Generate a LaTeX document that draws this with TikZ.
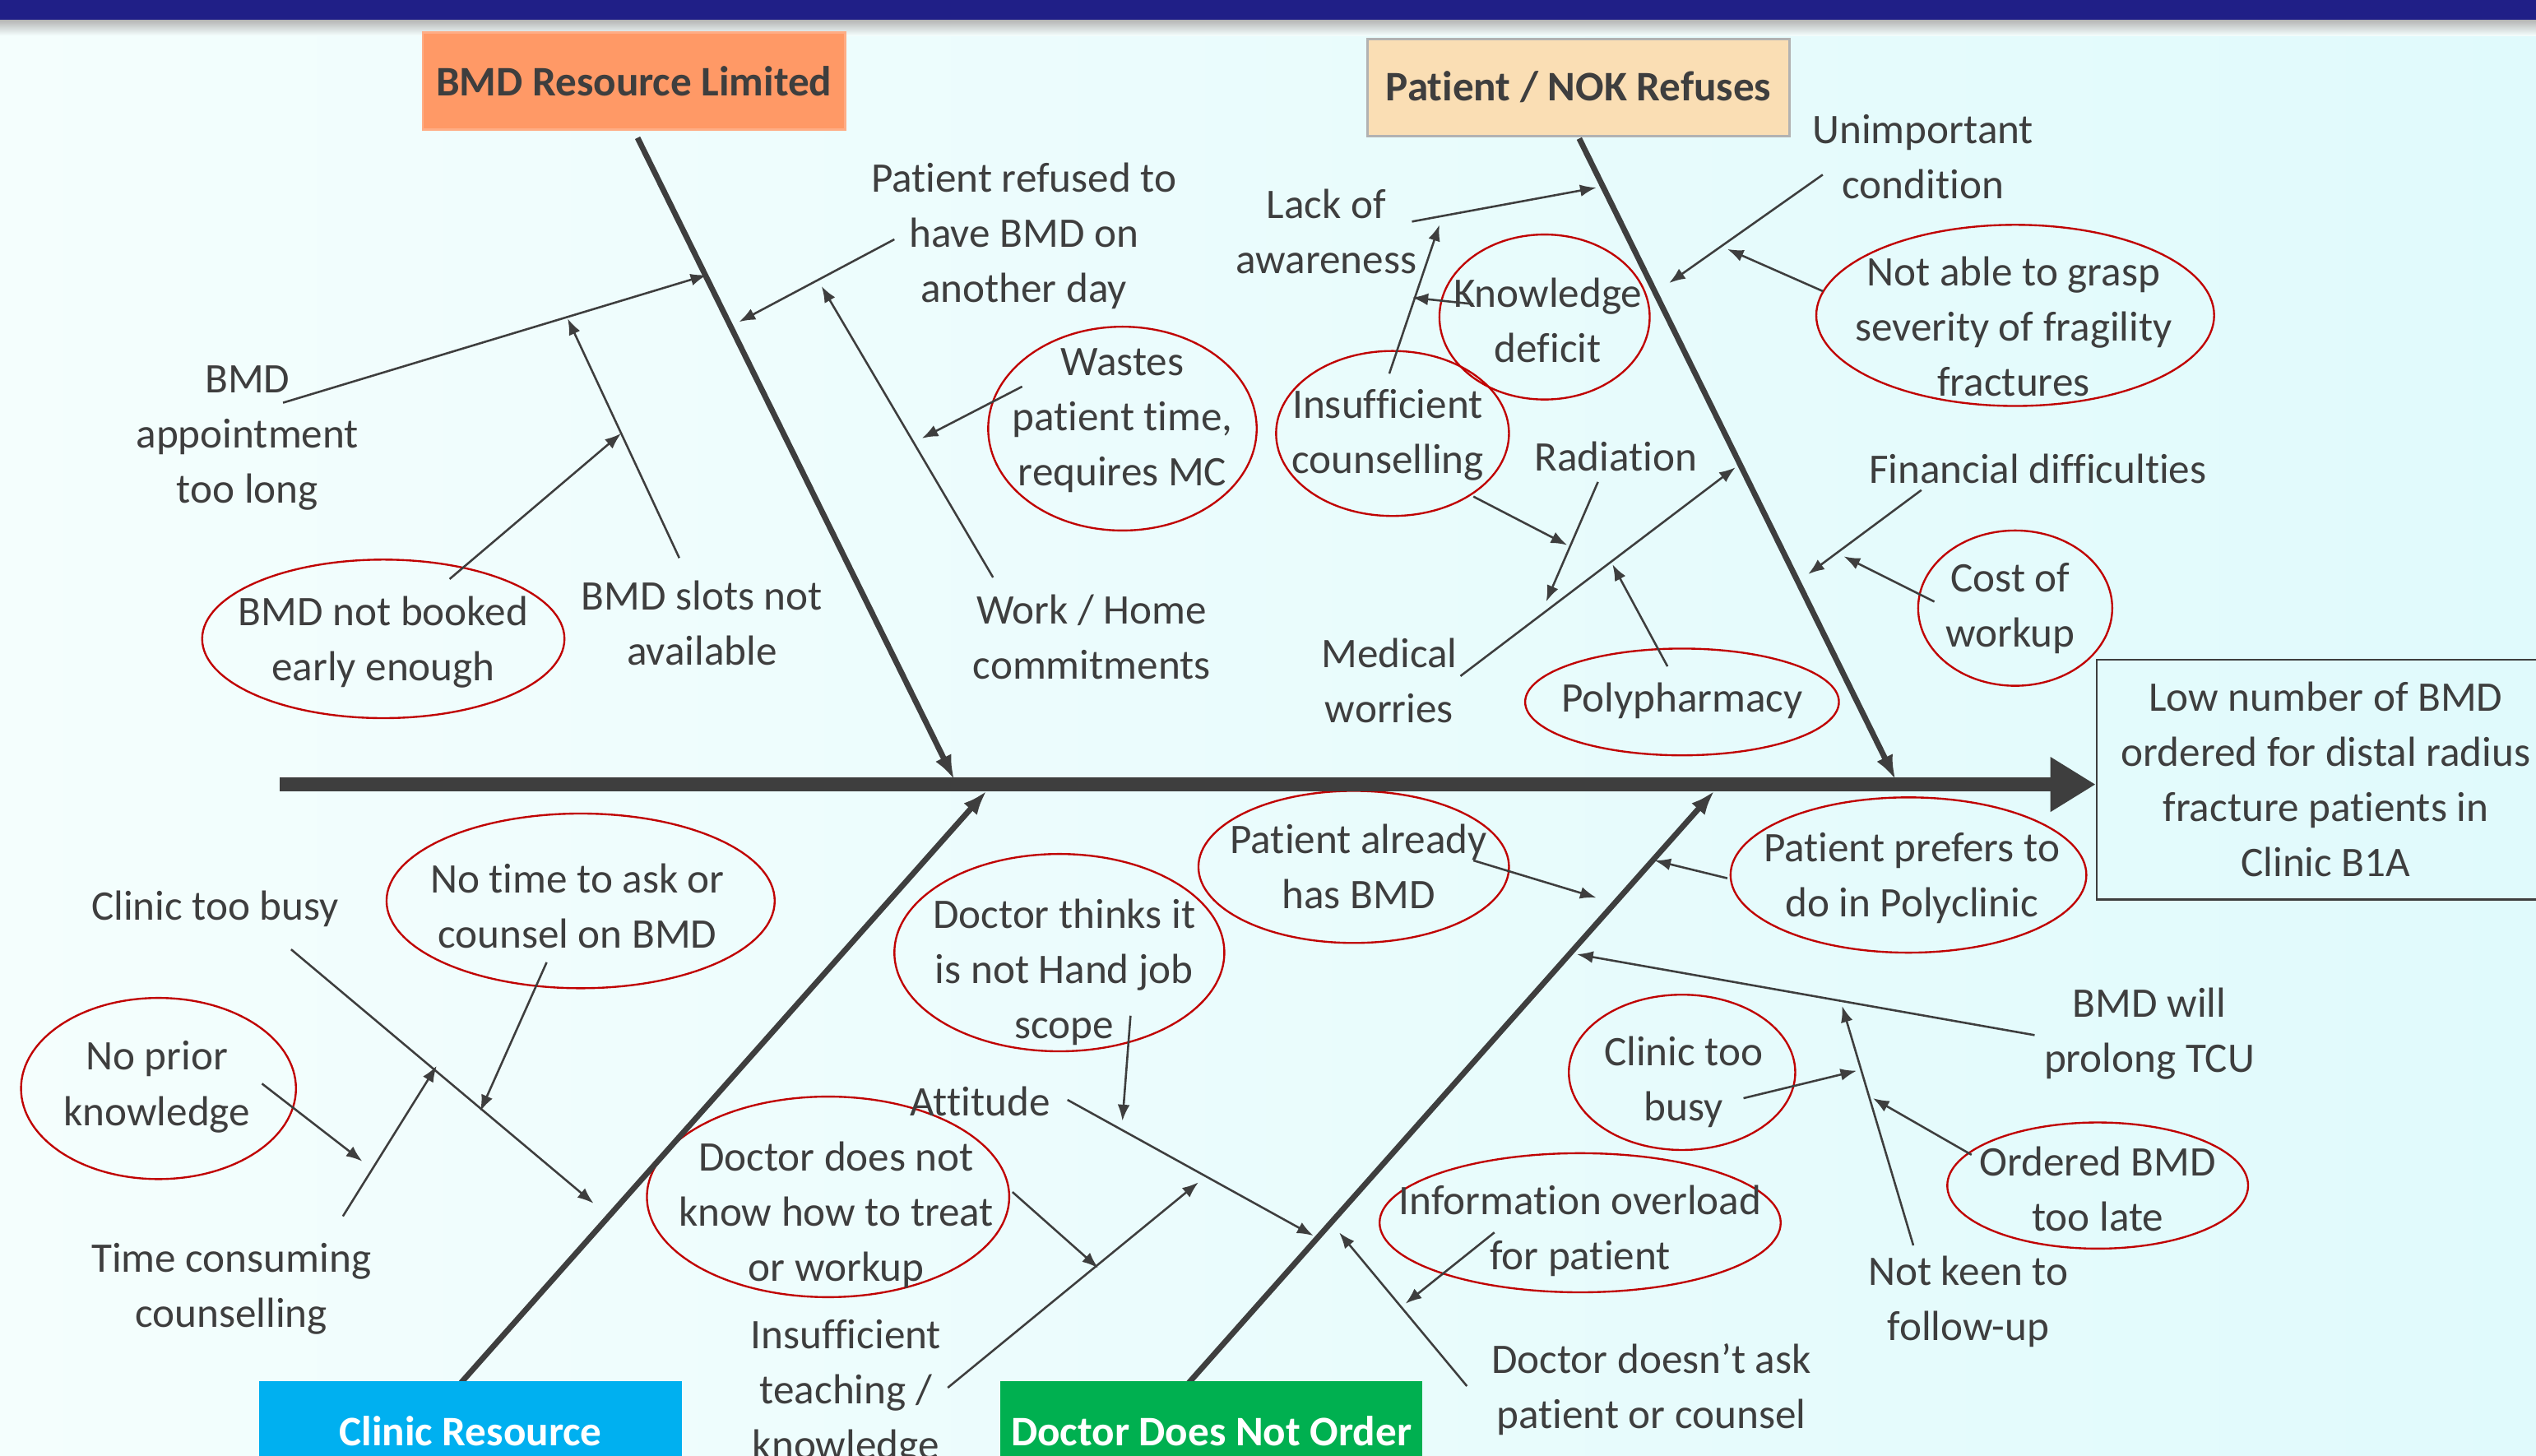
\documentclass[tikz,border=0pt]{standalone}
\usepackage{fontspec}
\setmainfont{Carlito}[Ligatures=NoCommon]
\usetikzlibrary{arrows.meta}
\definecolor{ink}{RGB}{62,62,62}
\definecolor{ovalred}{RGB}{192,0,0}
\definecolor{bgleft}{RGB}{244,254,253}
\definecolor{bgright}{RGB}{224,250,252}
\definecolor{barblue}{RGB}{32,31,135}
\definecolor{salmon}{RGB}{255,153,102}
\definecolor{peach}{RGB}{250,222,180}
\definecolor{skyblue}{RGB}{0,176,240}
\definecolor{leafgreen}{RGB}{0,176,80}

\begin{document}
\begin{tikzpicture}[x=0.01cm, y=-0.01cm, >={Latex[length=0.1cm,width=0.075cm]},
    txt/.style={align=center, text=ink, inner sep=0, font=\fontsize{7.4}{9.7}\selectfont},
    arr/.style={draw=ink, line width=0.013cm, ->},
    bone/.style={draw=ink, line width=0.035cm, -{Latex[length=0.15cm,width=0.11cm]}},
    spine/.style={draw=ink, line width=0.09cm, -{Triangle[length=0.28cm,width=0.32cm]}},
    oval/.style={draw=ovalred, line width=0.012cm},
    catbox/.style={minimum width=2.61cm, minimum height=0.6cm, inner sep=0,
      font=\fontsize{7.4}{9.7}\selectfont\bfseries}]
  \useasboundingbox (0,0) rectangle (1568,900);
  \clip (0,0) rectangle (1568,900);

  % background and title bar
  \fill[left color=bgleft, right color=bgright] (0,0) rectangle (1568,900);
  \shade[top color=gray!60, bottom color=bgleft] (0,12) rectangle (1568,22);
  \fill[barblue] (0,0) rectangle (1568,12);

  % category boxes and effect
  \node[catbox, fill=salmon, draw=salmon!80!white, text=ink] (bmdres) at (392,50) {BMD Resource Limited};
  \node[catbox, fill=peach, draw=gray!60, text=ink] (nok) at (976,54) {Patient / NOK Refuses};
  \node[txt, draw=ink, line width=0.013cm, minimum width=2.83cm, minimum height=1.48cm] (effect) at (1438,482)
    {Low number of BMD\\ordered for distal radius\\fracture patients in\\Clinic B1A};

  % ovals
  \draw[oval] (237,395) ellipse [x radius=112, y radius=49];
  \draw[oval] (694,265) ellipse [x radius=83, y radius=63];
  \draw[oval] (955,196) ellipse [x radius=65, y radius=51];
  \draw[oval] (861,268) ellipse [x radius=72, y radius=51];
  \draw[oval] (1040,434) ellipse [x radius=97, y radius=33];
  \draw[oval] (1246,195) ellipse [x radius=123, y radius=56];
  \draw[oval] (1246,376) ellipse [x radius=60, y radius=48];
  \draw[oval] (359,557) ellipse [x radius=120, y radius=54];
  \draw[oval] (98,673) ellipse [x radius=85, y radius=56];
  \draw[oval] (655,589) ellipse [x radius=102, y radius=61];
  \draw[oval] (512,740) ellipse [x radius=112, y radius=62];
  \draw[oval] (837,536) ellipse [x radius=96, y radius=47];
  \draw[oval] (1180,541) ellipse [x radius=110, y radius=48];
  \draw[oval] (1040,663) ellipse [x radius=70, y radius=48];
  \draw[oval] (1297,733) ellipse [x radius=93, y radius=39];
  \draw[oval] (977,756) ellipse [x radius=124, y radius=43];

  % BMD Resource Limited
  \node[txt] (appt) at (153,271) {BMD\\appointment\\too long};
  \node[txt] (slots) at (434,385) {BMD slots not\\available};
  \node[txt] (notbooked) at (237,397) {BMD not booked\\early enough};
  \node[txt] (refused) at (633,146) {Patient refused to\\have BMD on\\another day};
  \node[txt] (work) at (675,394) {Work / Home\\commitments};
  \node[txt] (wastes) at (694,260) {Wastes\\patient time,\\requires MC};

  % Patient / NOK Refuses
  \node[txt] (lack) at (820,143) {Lack of\\awareness};
  \node[txt] (knowdef) at (957,198) {Knowledge\\deficit};
  \node[txt] (counsel) at (858,269) {Insufficient\\counselling};
  \node[txt] (radiation) at (999,282) {Radiation};
  \node[txt] (medical) at (859,421) {Medical\\worries};
  \node[txt] (poly) at (1040,433) {Polypharmacy};
  \node[txt] (unimp) at (1189,97) {Unimportant\\condition};
  \node[txt] (grasp) at (1245,202) {Not able to grasp\\severity of fragility\\fractures};
  \node[txt] (finance) at (1260,290) {Financial difficulties};
  \node[txt] (cost) at (1243,376) {Cost of\\workup};

  % Clinic Resource
  \node[txt] (busy) at (133,562) {Clinic too busy};
  \node[txt] (notime) at (357,560) {No time to ask or\\counsel on BMD};
  \node[txt] (noprior) at (97,672) {No prior\\knowledge};
  \node[txt] (timecons) at (143,797) {Time consuming\\counselling};

  % Doctor Does Not Order
  \node[txt] (handjob) at (658,601) {Doctor thinks it\\is not Hand job\\scope};
  \node[txt] (attitude) at (606,681) {Attitude};
  \node[txt] (treat) at (517,751) {Doctor does not\\know how to treat\\or workup};
  \node[txt] (teaching) at (523,861) {Insufficient\\teaching /\\knowledge};
  \node[txt] (already) at (840,536) {Patient already\\has BMD};
  \node[txt] (prefers) at (1182,543) {Patient prefers to\\do in Polyclinic};
  \node[txt] (prolong) at (1329,639) {BMD will\\prolong TCU};
  \node[txt] (busytwo) at (1041,669) {Clinic too\\busy};
  \node[txt] (notkeen) at (1217,805) {Not keen to\\follow-up};
  \node[txt] (late) at (1297,735) {Ordered BMD\\too late};
  \node[txt] (overload) at (977,761) {Information overload\\for patient};
  \node[txt] (noask) at (1021,859) {Doctor doesn’t ask\\patient or counsel};

  % arrow ends
  \coordinate (appt-a) at (175,249);     \coordinate (appt-b) at (437,170);
  \coordinate (slots-a) at (420,345);    \coordinate (slots-b) at (351,197);
  \coordinate (booked-a) at (278,358);   \coordinate (booked-b) at (384,268);
  \coordinate (refused-a) at (553,148);  \coordinate (refused-b) at (457,199);
  \coordinate (work-a) at (614,357);     \coordinate (work-b) at (508,177);
  \coordinate (wastes-a) at (632,239);   \coordinate (wastes-b) at (570,271);
  \coordinate (lack-a) at (873,137);     \coordinate (lack-b) at (987,116);
  \coordinate (know-a) at (911,188);     \coordinate (know-b) at (873,184);
  \coordinate (couns-a) at (859,231);    \coordinate (couns-b) at (890,139);
  \coordinate (counsd-a) at (911,307);   \coordinate (counsd-b) at (969,337);
  \coordinate (rad-a) at (988,298);      \coordinate (rad-b) at (956,372);
  \coordinate (med-a) at (903,418);      \coordinate (med-b) at (1073,289);
  \coordinate (poly-a) at (1031,412);    \coordinate (poly-b) at (997,349);
  \coordinate (unimp-a) at (1127,108);   \coordinate (unimp-b) at (1032,175);
  \coordinate (grasp-a) at (1127,180);   \coordinate (grasp-b) at (1068,154);
  \coordinate (fin-a) at (1188,303);     \coordinate (fin-b) at (1118,355);
  \coordinate (cost-a) at (1196,372);    \coordinate (cost-b) at (1140,344);
  \coordinate (busy-a) at (180,587);     \coordinate (busy-b) at (367,744);
  \coordinate (notime-a) at (338,595);   \coordinate (notime-b) at (297,687);
  \coordinate (prior-a) at (162,670);    \coordinate (prior-b) at (224,718);
  \coordinate (tcons-a) at (212,752);    \coordinate (tcons-b) at (270,659);
  \coordinate (job-a) at (699,628);      \coordinate (job-b) at (694,693);
  \coordinate (att-a) at (660,680);      \coordinate (att-b) at (812,764);
  \coordinate (treat-a) at (626,737);    \coordinate (treat-b) at (679,784);
  \coordinate (teach-a) at (586,858);    \coordinate (teach-b) at (741,731);
  \coordinate (has-a) at (911,532);      \coordinate (has-b) at (987,555);
  \coordinate (pref-a) at (1068,543);    \coordinate (pref-b) at (1023,532);
  \coordinate (tcu-a) at (1258,640);     \coordinate (tcu-b) at (975,590);
  \coordinate (busy2-a) at (1078,679);   \coordinate (busy2-b) at (1148,662);
  \coordinate (keen-a) at (1183,770);    \coordinate (keen-b) at (1139,622);
  \coordinate (late-a) at (1219,714);    \coordinate (late-b) at (1158,679);
  \coordinate (over-a) at (924,762);     \coordinate (over-b) at (869,806);
  \coordinate (ask-a) at (907,857);      \coordinate (ask-b) at (828,762);

  \draw[arr] (appt-a) -- (appt-b);
  \draw[arr] (slots-a) -- (slots-b);
  \draw[arr] (booked-a) -- (booked-b);
  \draw[arr] (refused-a) -- (refused-b);
  \draw[arr] (work-a) -- (work-b);
  \draw[arr] (wastes-a) -- (wastes-b);
  \draw[arr] (lack-a) -- (lack-b);
  \draw[arr] (know-a) -- (know-b);
  \draw[arr] (couns-a) -- (couns-b);
  \draw[arr] (counsd-a) -- (counsd-b);
  \draw[arr] (rad-a) -- (rad-b);
  \draw[arr] (med-a) -- (med-b);
  \draw[arr] (poly-a) -- (poly-b);
  \draw[arr] (unimp-a) -- (unimp-b);
  \draw[arr] (grasp-a) -- (grasp-b);
  \draw[arr] (fin-a) -- (fin-b);
  \draw[arr] (cost-a) -- (cost-b);
  \draw[arr] (busy-a) -- (busy-b);
  \draw[arr] (notime-a) -- (notime-b);
  \draw[arr] (prior-a) -- (prior-b);
  \draw[arr] (tcons-a) -- (tcons-b);
  \draw[arr] (job-a) -- (job-b);
  \draw[arr] (att-a) -- (att-b);
  \draw[arr] (treat-a) -- (treat-b);
  \draw[arr] (teach-a) -- (teach-b);
  \draw[arr] (has-a) -- (has-b);
  \draw[arr] (pref-a) -- (pref-b);
  \draw[arr] (tcu-a) -- (tcu-b);
  \draw[arr] (busy2-a) -- (busy2-b);
  \draw[arr] (keen-a) -- (keen-b);
  \draw[arr] (late-a) -- (late-b);
  \draw[arr] (over-a) -- (over-b);
  \draw[arr] (ask-a) -- (ask-b);

  % bones and spine
  \coordinate (b1end) at (590,482);
  \coordinate (b2end) at (1172,482);
  \coordinate (b3foot) at (285,855);  \coordinate (b3end) at (610,489);
  \coordinate (b4foot) at (735,855);  \coordinate (b4end) at (1060,489);
  \coordinate (tail) at (173,485);
  \draw[bone, shorten <=0.05cm] (bmdres.south) -- (b1end);
  \draw[bone, shorten <=0.01cm] (nok.south) -- (b2end);
  \draw[bone] (b3foot) -- (b3end);
  \draw[bone] (b4foot) -- (b4end);
  \draw[spine] (tail) -- (tail -| effect.west);

  \node[catbox, fill=skyblue, text=white, minimum height=0.62cm] (clinres) at (291,885) {Clinic Resource};
  \node[catbox, fill=leafgreen, text=white, minimum height=0.62cm] (docorder) at (749,885) {Doctor Does Not Order};
\end{tikzpicture}
\end{document}
